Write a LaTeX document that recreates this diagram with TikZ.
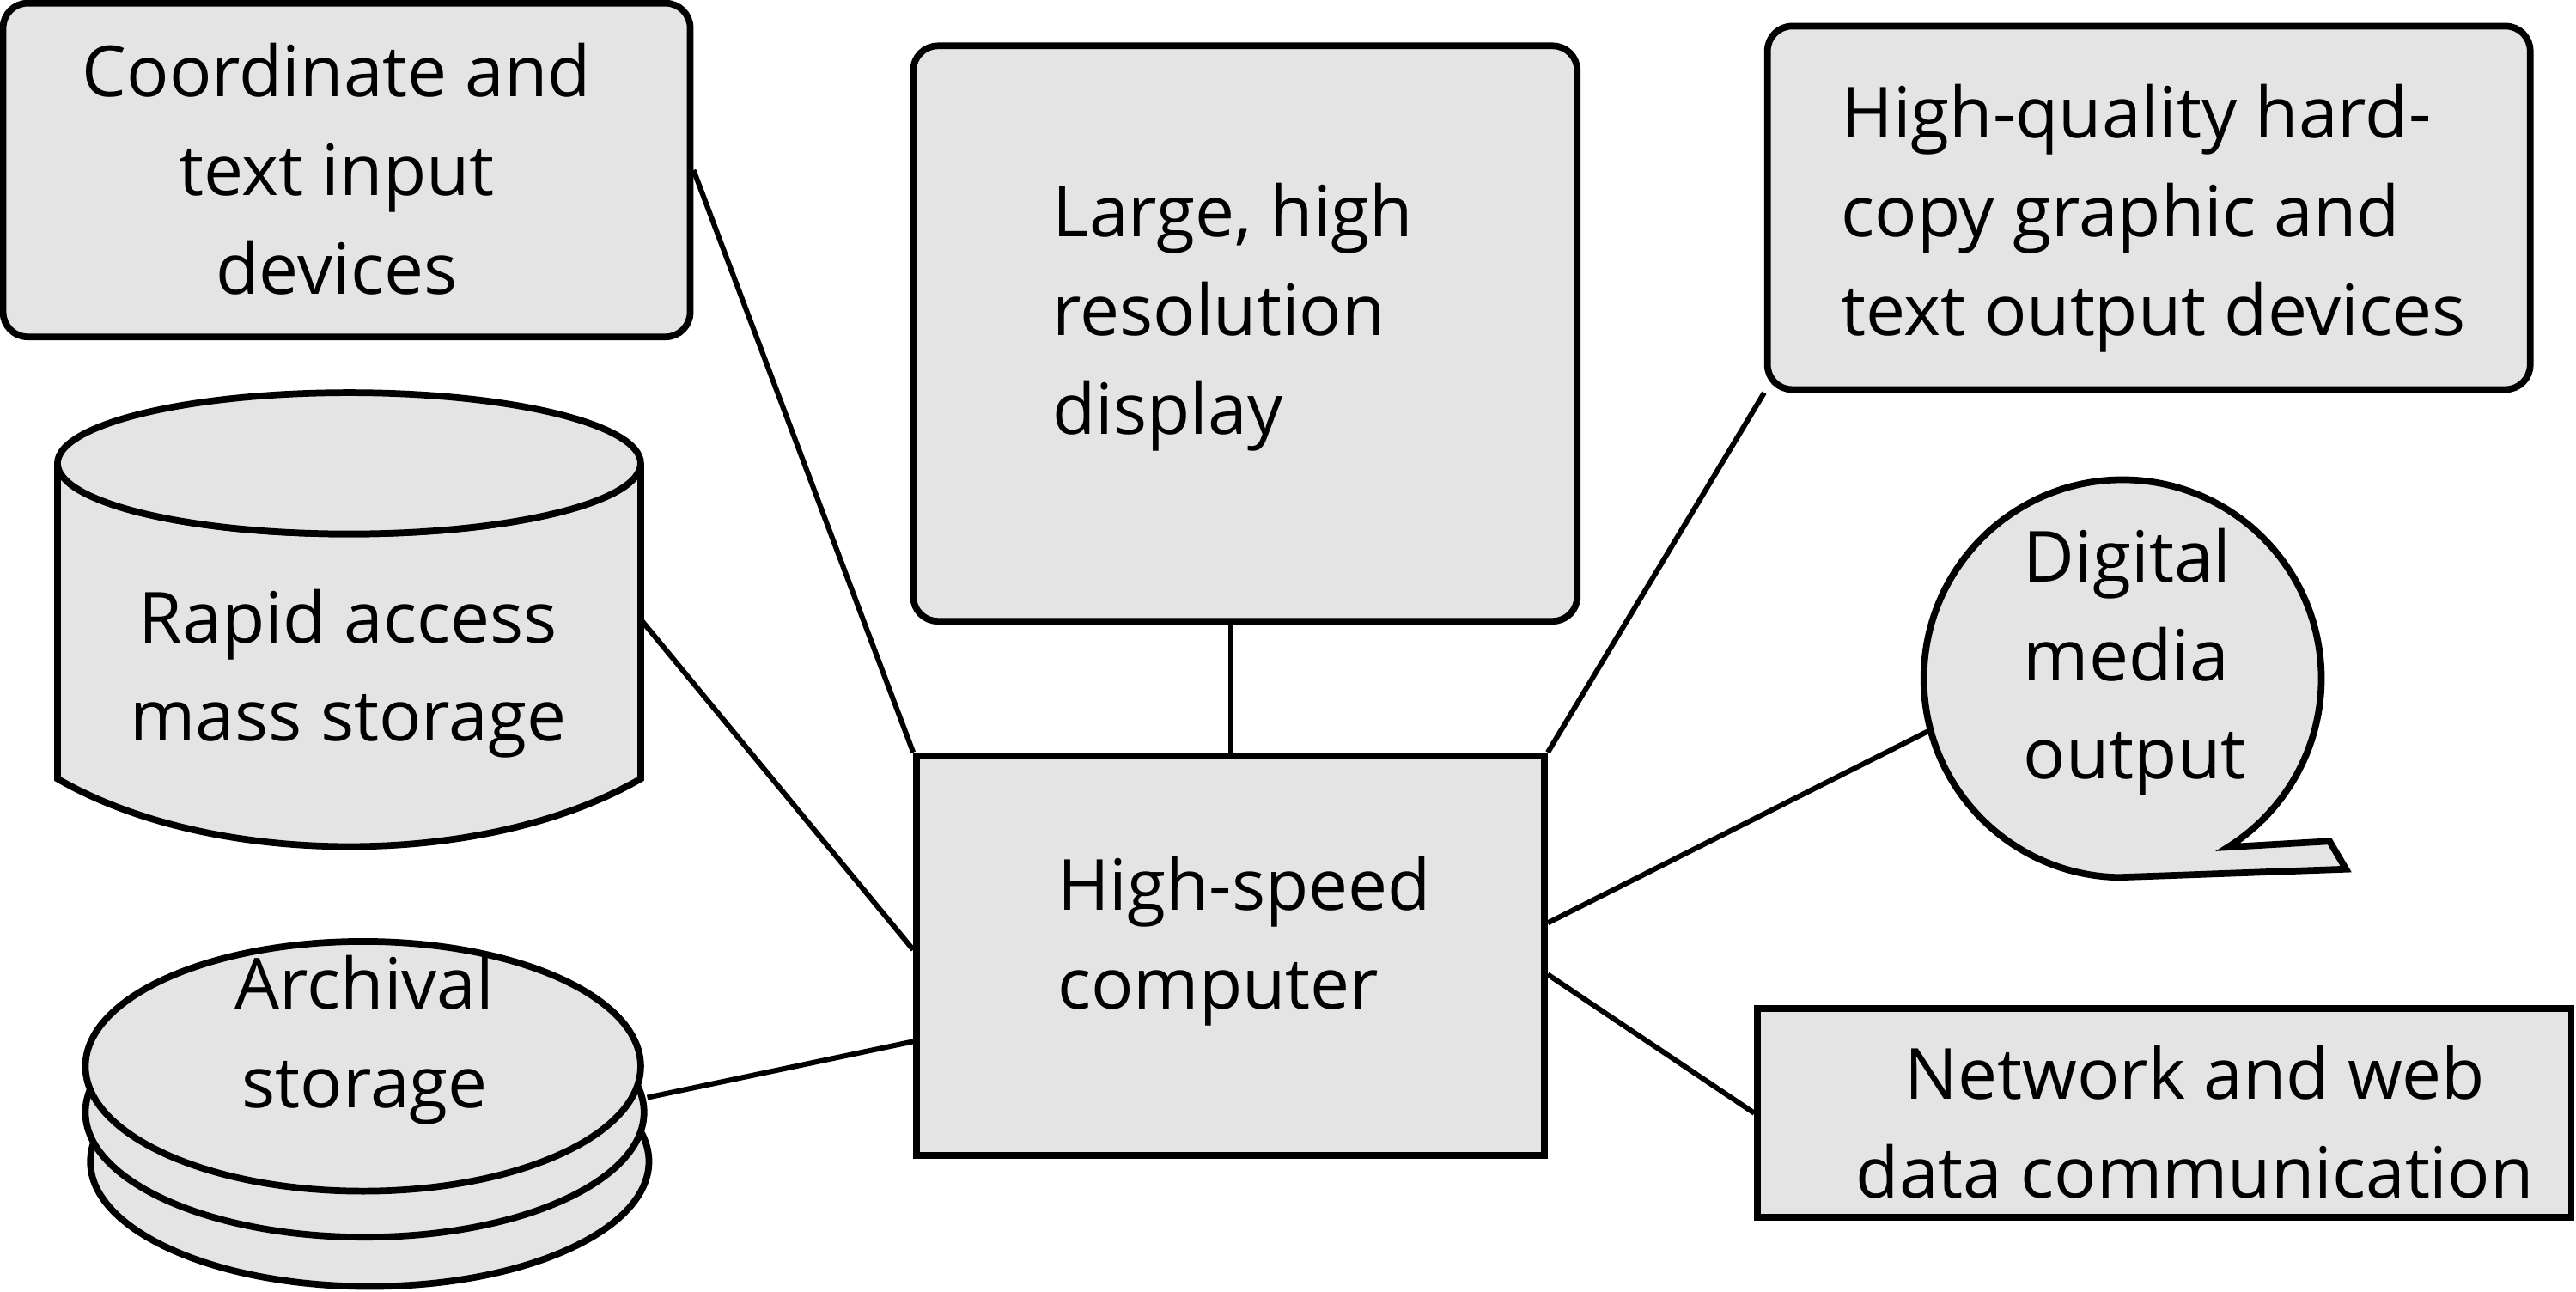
\documentclass[tikz,border=0pt]{standalone}
\usepackage{fontspec}
\setmainfont{Open Sans}
\usetikzlibrary{calc}
\definecolor{boxgray}{RGB}{228,228,228}
\begin{document}
\begin{tikzpicture}[x=0.01cm,y=-0.01cm,
  shp/.style={draw=black, line width=1.15pt, fill=boxgray},
  rbox/.style={shp, rectangle, rounded corners=0.15cm, inner sep=0pt},
  sbox/.style={shp, rectangle, inner sep=0pt},
  txt/.style={font=\fontsize{12.2}{17.07}\selectfont, inner sep=0pt},
  conn/.style={draw=black, line width=0.9pt}]
\useasboundingbox (0,0) rectangle (1568,786.35);

% boxes
\node[rbox, minimum width=4.18cm, minimum height=2.03cm] (coord) at (211,103.5) {};
\node[txt, align=center] (coordt) at (205,103) {Coordinate and\\text input\\devices};

\node[rbox, minimum width=4.04cm, minimum height=3.50cm] (disp) at (758,203) {};
\node[txt, align=left, anchor=west] (dispt) at (640,193) {Large, high\\resolution\\display};

\node[rbox, minimum width=4.64cm, minimum height=2.21cm] (hq) at (1308,126.5) {};
\node[txt, align=left, anchor=west] (hqt) at (1120,133) {High-quality hard-\\copy graphic and\\text output devices};

\node[sbox, minimum width=3.82cm, minimum height=2.43cm] (comp) at (749,581.5) {};
\node[txt, align=left, anchor=west] (compt) at (643,573) {High-speed\\computer};

\node[sbox, minimum width=4.95cm, minimum height=1.27cm] (net) at (1317.5,677.5) {};
\node[txt, align=center] (nett) at (1336,683) {Network and web\\data communication};

% cylinder (rapid access mass storage)
\draw[shp] (35,282) -- (35,474) .. controls (130,529) and (295,529) .. (390,474)
  -- (390,282) arc[start angle=0, end angle=180, x radius=177.5, y radius=43] -- cycle;
\draw[shp] (212.5,282) ellipse[x radius=177.5, y radius=43];
\node[txt, align=center] (cyl) at (212,410) {Rapid access\\mass storage};
\coordinate (cylR) at (390,377);

% archival storage discs
\draw[shp] (225,707) ellipse[x radius=170, y radius=76];
\draw[shp] (222,677) ellipse[x radius=170, y radius=76];
\draw[shp] (221,649) ellipse[x radius=169, y radius=76];
\node[txt, align=center] (arch) at (222,633) {Archival\\storage};
\coordinate (archR) at (394,668);

% speech bubble
\coordinate (bubc) at (1292,413);
\draw[shp] ($(bubc)+(91:121)$) arc[start angle=91, end angle=418, radius=121]
  -- (1418,512) -- (1428,529) -- cycle;
\node[txt, align=left, anchor=west] (bubt) at (1231,403) {Digital\\media\\output};
\coordinate (bubL) at ($(bubc)+(165:121)$);

% connectors
\draw[conn] (coord.east) -- (comp.north west);
\draw[conn] (comp.north) -- (comp.north |- disp.south);
\draw[conn] (hq.south west) -- (comp.north east);
\draw[conn] (cylR) -- ($(comp.north west)!0.486!(comp.south west)$);
\draw[conn] (archR) -- ($(comp.north west)!0.712!(comp.south west)$);
\draw[conn] (bubL) -- ($(comp.north east)!0.42!(comp.south east)$);
\draw[conn] (net.west) -- ($(comp.north east)!0.547!(comp.south east)$);
\end{tikzpicture}
\end{document}
